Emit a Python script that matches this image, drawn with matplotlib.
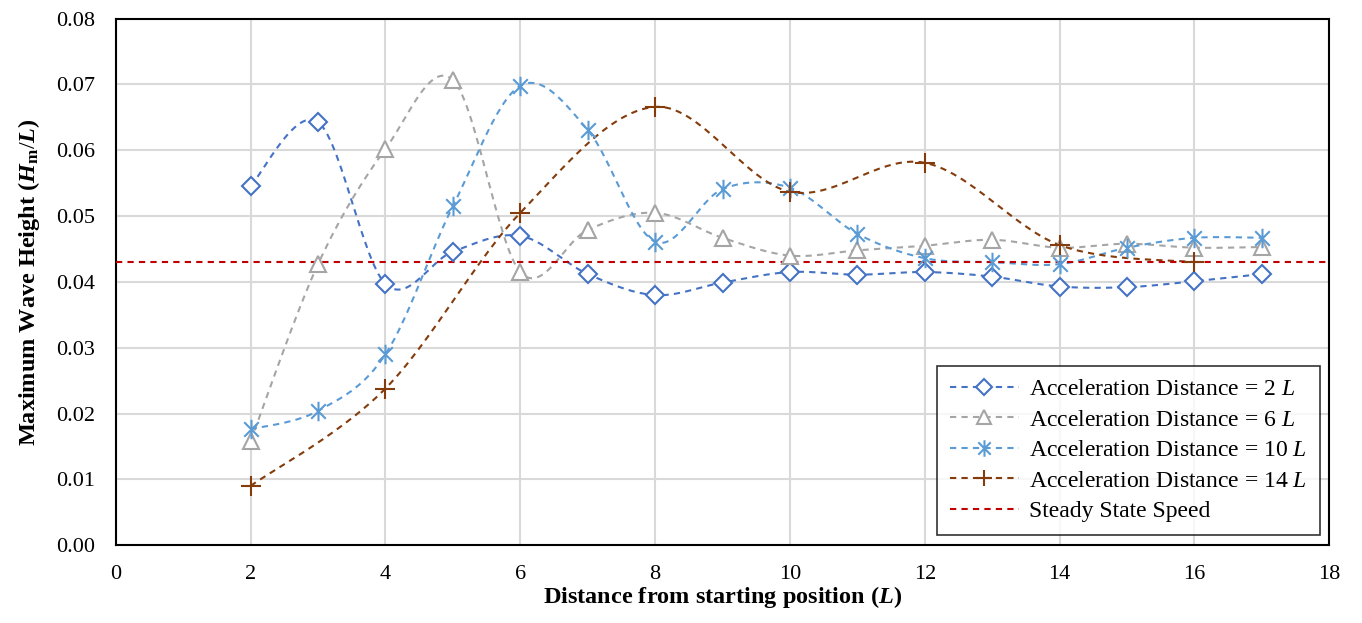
import numpy as np
import matplotlib
matplotlib.use("Agg")
import matplotlib.pyplot as plt
from matplotlib.path import Path

plt.rcParams['font.family'] = ['Liberation Serif', 'DejaVu Serif']
plt.rcParams['mathtext.fontset'] = 'custom'
plt.rcParams['mathtext.rm'] = 'Liberation Serif'
plt.rcParams['mathtext.it'] = 'Liberation Serif:italic'
plt.rcParams['mathtext.bf'] = 'Liberation Serif:bold'
plt.rcParams['mathtext.bfit'] = 'Liberation Serif:bold:italic'

# data
x_full = [2, 3, 4, 5, 6, 7, 8, 9, 10, 11, 12, 13, 14, 15, 16, 17]
acc2 = [0.0546, 0.0643, 0.0397, 0.0446, 0.0470, 0.0412, 0.0380, 0.0399, 0.0415,
        0.0411, 0.0415, 0.0408, 0.0393, 0.0392, 0.0401, 0.0412]
acc6 = [0.0158, 0.0427, 0.0602, 0.0707, 0.0415, 0.0479, 0.0505, 0.0467, 0.0440,
        0.0448, 0.0455, 0.0464, 0.0452, 0.0458, 0.0452, 0.0453]
acc10 = [0.0176, 0.0204, 0.0290, 0.0515, 0.0698, 0.0631, 0.0461, 0.0541, 0.0543,
         0.0473, 0.0436, 0.0430, 0.0427, 0.0452, 0.0467, 0.0467]
x14 = [2, 4, 6, 8, 10, 12, 14, 16]
acc14 = [0.0090, 0.0238, 0.0505, 0.0666, 0.0537, 0.0581, 0.0456, 0.0430]
steady = 0.0431

labels = [r"Acceleration Distance = 2 $\mathit{L}$",
          r"Acceleration Distance = 6 $\mathit{L}$",
          r"Acceleration Distance = 10 $\mathit{L}$",
          r"Acceleration Distance = 14 $\mathit{L}$"]
colors = ['#4472C4', '#A5A5A5', '#5B9BD5', '#843C0C']


def smooth(xs, ys, n=30):
    # excel-like smoothing (catmull-rom through the points)
    xs = np.asarray(xs, float)
    ys = np.asarray(ys, float)
    px = np.concatenate([[xs[0]], xs, [xs[-1]]])
    py = np.concatenate([[ys[0]], ys, [ys[-1]]])
    outx, outy = [], []
    t = np.linspace(0, 1, n)
    for i in range(1, len(px) - 2):
        p0x, p1x, p2x, p3x = px[i - 1], px[i], px[i + 1], px[i + 2]
        p0y, p1y, p2y, p3y = py[i - 1], py[i], py[i + 1], py[i + 2]
        c1x = p1x + (p2x - p0x) / 6
        c1y = p1y + (p2y - p0y) / 6
        c2x = p2x - (p3x - p1x) / 6
        c2y = p2y - (p3y - p1y) / 6
        bx = (1 - t) ** 3 * p1x + 3 * (1 - t) ** 2 * t * c1x + 3 * (1 - t) * t ** 2 * c2x + t ** 3 * p2x
        by = (1 - t) ** 3 * p1y + 3 * (1 - t) ** 2 * t * c1y + 3 * (1 - t) * t ** 2 * c2y + t ** 3 * p2y
        outx.extend(bx)
        outy.extend(by)
    return outx, outy


star = Path([(0, -1), (0, 1), (-0.75, -0.75), (0.75, 0.75), (-0.75, 0.75), (0.75, -0.75)],
            [Path.MOVETO, Path.LINETO, Path.MOVETO, Path.LINETO, Path.MOVETO, Path.LINETO])

fig, ax = plt.subplots(figsize=(13.62, 6.23), dpi=100)
fig.subplots_adjust(left=0.085, right=0.976, top=0.97, bottom=0.125)

series = [(x_full, acc2, 'D', 9.5), (x_full, acc6, '^', 12), (x_full, acc10, star, 14), (x14, acc14, '+', 14)]
for (xs, ys, mk, ms), lab, col in zip(series, labels, colors):
    sx, sy = smooth(xs, ys)
    ax.plot(sx, sy, color=col, lw=1.5, ls=(0, (3, 2.5)), zorder=3)
    ax.plot(xs, ys, ls='none', marker=mk, ms=ms, mfc='white' if mk in ('D', '^') else col,
            mec=col, mew=1.5, zorder=4)
    ax.plot([], [], color=col, lw=1.5, ls=(0, (3, 2.5)), marker=mk, ms=ms * 0.85,
            mfc='white' if mk in ('D', '^') else col, mec=col, mew=1.5, label=lab)

ax.axhline(steady, color='#C00000', lw=1.5, ls=(0, (3, 2.5)), zorder=3, label='Steady State Speed')

ax.set_xlim(0, 18)
ax.set_ylim(0, 0.08)
ax.set_xticks(range(0, 19, 2))
ax.set_yticks(np.arange(0, 0.081, 0.01))
ax.set_yticklabels([f"{v:.2f}" for v in np.arange(0, 0.081, 0.01)])
ax.tick_params(length=0, labelsize=16)
ax.tick_params(axis='x', pad=14)
ax.tick_params(axis='y', pad=15)
ax.grid(color='#D9D9D9', lw=1.5)
ax.set_axisbelow(True)
for s in ax.spines.values():
    s.set_linewidth(1.5)
    s.set_color('black')

ax.set_xlabel(r"Distance from starting position ($\mathbfit{L}$)", fontsize=17.5, fontweight='bold', labelpad=0)
ax.set_ylabel(r"Maximum Wave Height ($\mathbfit{H}_{\mathbf{m}}/\mathbfit{L}$)", fontsize=17.5, fontweight='bold', labelpad=10)

leg = ax.legend(loc='lower right', bbox_to_anchor=(0.9925, 0.019), borderaxespad=0,
                fontsize=17, frameon=True, fancybox=False, edgecolor='black',
                handlelength=2.9, handletextpad=0.45, labelspacing=0.38, borderpad=0.55)
leg.get_frame().set_linewidth(1.2)

fig.savefig("out.png", dpi=100)
